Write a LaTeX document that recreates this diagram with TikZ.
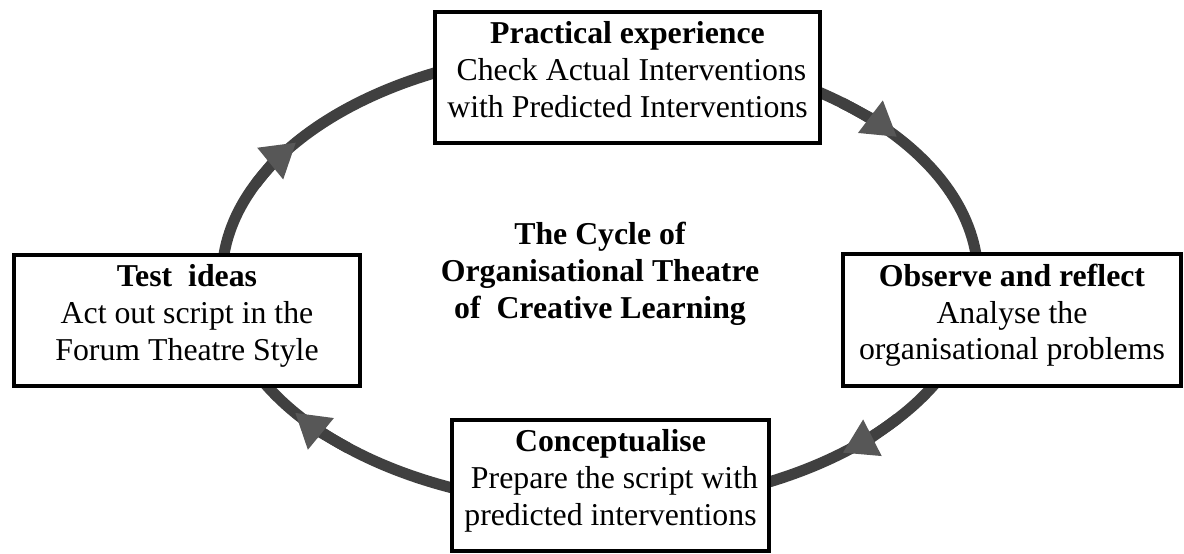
\documentclass[tikz,border=0pt]{standalone}
\usepackage{fontspec}
\setmainfont{Liberation Serif}
\usetikzlibrary{arrows.meta}

\definecolor{ringgray}{HTML}{404040}
\definecolor{tipgray}{HTML}{575757}

\newcommand{\bigtext}{\fontsize{31.8}{36.7}\selectfont}
\newcommand{\boxend}{\rule[-16pt]{0pt}{16pt}}

\begin{document}
\begin{tikzpicture}[x=1pt, y=1pt, align=center, font=\bigtext,
    stage/.style={draw, line width=4pt, fill=white, inner xsep=4pt, inner ysep=10pt},
    ring/.style={line width=11pt, ringgray}]
    \useasboundingbox (0,0) rectangle (1184,554);
    \coordinate (c) at (600,276);
    \draw[ring] (c) ellipse [x radius=378, y radius=228];
    % heads on the ring, clockwise
    \foreach \a in {143.6, 38.3, 310, 216.3}
        \draw[ring, -{Triangle[length=33pt, width=41pt, line width=0pt, color=tipgray]}]
            (c) ++(\a+12:378 and 228) arc[start angle=\a+12, end angle=\a, x radius=378, y radius=228];

    \node[stage, minimum width=385] at (627.5, 476.5) (exp)
        {\textbf{Practical experience}\\\ Check Actual Interventions\\with Predicted Interventions\boxend};
    \node[stage, minimum width=338] at (1012, 234) (obs)
        {\textbf{Observe and reflect}\\Analyse the\\organisational problems\boxend};
    \node[stage, minimum width=317] at (610.5, 68.5) (con)
        {\textbf{Conceptualise}\\\ Prepare the script with\\predicted interventions\boxend};
    \node[stage, minimum width=346] at (187, 233.5) (test)
        {\textbf{Test\ \ ideas}\\Act out script in the\\Forum Theatre Style\boxend};
    \node[font=\bigtext\bfseries] at (600, 280) (title)
        {The Cycle of\\Organisational Theatre\\of\ \ Creative Learning};
\end{tikzpicture}
\end{document}
